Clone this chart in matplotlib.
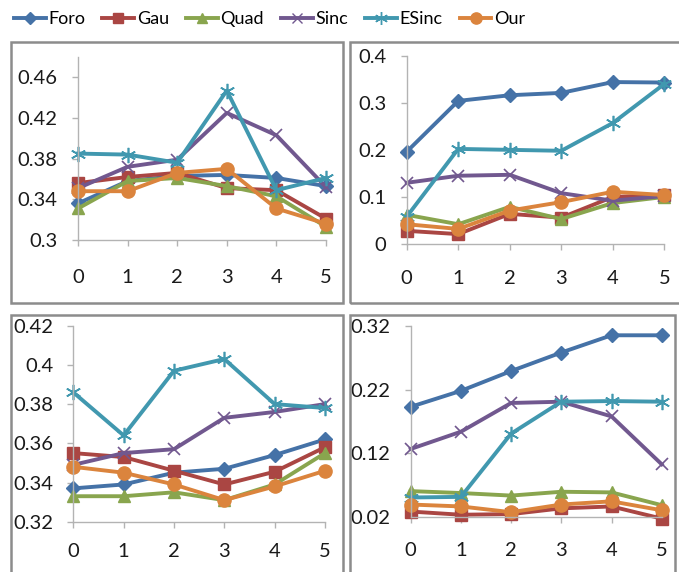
import matplotlib
matplotlib.use("Agg")
import matplotlib.pyplot as plt
from matplotlib.patches import Rectangle
from matplotlib.lines import Line2D

plt.rcParams['font.family'] = ['Lato', 'DejaVu Sans']

#%% data
x = [0, 1, 2, 3, 4, 5]
names = ['Foro', 'Gau', 'Quad', 'Sinc', 'ESinc', 'Our']

# top left panel
tl_foro = [0.336, 0.358, 0.363, 0.364, 0.361, 0.353]
tl_gau = [0.356, 0.362, 0.366, 0.351, 0.349, 0.321]
tl_quad = [0.331, 0.358, 0.361, 0.353, 0.343, 0.313]
tl_sinc = [0.351, 0.372, 0.379, 0.425, 0.403, 0.352]
tl_esinc = [0.385, 0.384, 0.376, 0.447, 0.349, 0.361]
tl_our = [0.348, 0.348, 0.366, 0.370, 0.331, 0.316]

# top right panel
tr_foro = [0.196, 0.304, 0.316, 0.321, 0.344, 0.343]
tr_gau = [0.028, 0.021, 0.064, 0.056, 0.100, 0.104]
tr_quad = [0.062, 0.042, 0.079, 0.053, 0.087, 0.100]
tr_sinc = [0.130, 0.145, 0.147, 0.108, 0.092, 0.102]
tr_esinc = [0.058, 0.202, 0.200, 0.198, 0.257, 0.340]
tr_our = [0.042, 0.032, 0.071, 0.089, 0.111, 0.104]

# bottom left panel
bl_foro = [0.337, 0.339, 0.345, 0.347, 0.354, 0.362]
bl_gau = [0.355, 0.353, 0.346, 0.339, 0.3455, 0.358]
bl_quad = [0.333, 0.333, 0.335, 0.331, 0.339, 0.355]
bl_sinc = [0.349, 0.355, 0.357, 0.373, 0.376, 0.380]
bl_esinc = [0.386, 0.364, 0.397, 0.403, 0.380, 0.378]
bl_our = [0.348, 0.345, 0.339, 0.331, 0.338, 0.346]

# bottom right panel
br_foro = [0.193, 0.218, 0.249, 0.278, 0.305, 0.305]
br_gau = [0.029, 0.024, 0.025, 0.034, 0.037, 0.018]
br_quad = [0.061, 0.058, 0.054, 0.060, 0.059, 0.039]
br_sinc = [0.127, 0.154, 0.199, 0.201, 0.178, 0.103]
br_esinc = [0.051, 0.052, 0.151, 0.201, 0.202, 0.201]
br_our = [0.040, 0.037, 0.028, 0.040, 0.045, 0.031]

#%% styles (excel 2007 default look)
colors = ['#4572A7', '#AA4643', '#89A54E', '#71588F', '#4198AF', '#DB843D']
markers = ['D', 's', '^', 'x', (6, 2, 0), 'o']
msizes = [7, 8.5, 9, 9, 11, 9.5]

fig = plt.figure(figsize=(6.79, 5.72), dpi=100)
W, H = 679.0, 572.0

def px_axes(x0, x1, ytop, ybot):
    return fig.add_axes([x0 / W, 1 - ybot / H, (x1 - x0) / W, (ybot - ytop) / H])

panels = [
    # series, axis box (px), ylim, yticks, tick labels, x label pad
    ([tl_foro, tl_gau, tl_quad, tl_sinc, tl_esinc, tl_our],
     (78, 326, 57, 240), (0.3, 0.48), [0.3, 0.34, 0.38, 0.42, 0.46],
     ['0.3', '0.34', '0.38', '0.42', '0.46'], 17),
    ([tr_foro, tr_gau, tr_quad, tr_sinc, tr_esinc, tr_our],
     (406.7, 664.3, 55.7, 244), (0, 0.4), [0, 0.1, 0.2, 0.3, 0.4],
     ['0', '0.1', '0.2', '0.3', '0.4'], 15),
    ([bl_foro, bl_gau, bl_quad, bl_sinc, bl_esinc, bl_our],
     (73.3, 325, 325.7, 521.7), (0.32, 0.42), [0.32, 0.34, 0.36, 0.38, 0.4, 0.42],
     ['0.32', '0.34', '0.36', '0.38', '0.4', '0.42'], 11.5),
    ([br_foro, br_gau, br_quad, br_sinc, br_esinc, br_our],
     (410.7, 661.7, 325.7, 517.3), (0.02, 0.32), [0.02, 0.12, 0.22, 0.32],
     ['0.02', '0.12', '0.22', '0.32'], 14),
]

for series, box, ylim, yt, ylab, xpad in panels:
    ax = px_axes(*box)
    for i, ys in enumerate(series):
        thin = i in (3, 4)
        ax.plot(x, ys, color=colors[i], lw=2.8, marker=markers[i],
                ms=msizes[i], mew=1.2 if thin else 1, clip_on=False)
    ax.set_xlim(0, 5)
    ax.set_ylim(*ylim)
    ax.set_xticks(x)
    ax.set_yticks(yt)
    ax.set_yticklabels(ylab)
    for s in ['top', 'right']:
        ax.spines[s].set_visible(False)
    for s in ['left', 'bottom']:
        ax.spines[s].set_color('#b3b3b3')
        ax.spines[s].set_linewidth(1)
    ax.tick_params(axis='both', colors='#b3b3b3', labelcolor='#1a1a1a',
                   labelsize=14.5, length=4, width=1, direction='out')
    ax.tick_params(axis='y', pad=10.5)
    ax.tick_params(axis='x', pad=xpad)

# grey chart frames around each panel
frames = [(11, 42, 343, 303), (350, 42, 690, 303),
          (11, 315, 343, 590), (350, 315, 675, 590)]
for x0, y0, x1, y1 in frames:
    fig.add_artist(Rectangle((x0 / W, 1 - y1 / H), (x1 - x0) / W, (y1 - y0) / H,
                             transform=fig.transFigure, fill=False,
                             edgecolor='#8c8c8c', lw=1.8))

# legend on top
handles = [Line2D([], [], color=colors[i], lw=2.8, marker=markers[i],
                  ms=msizes[i] * 0.85) for i in range(6)]
fig.legend(handles, names, loc='center left', bbox_to_anchor=(14 / W, 1 - 19 / H),
           ncol=6, frameon=False, fontsize=13, handlelength=1.75,
           handletextpad=0.15, columnspacing=0.95, borderpad=0, borderaxespad=0)

fig.savefig('out.png', dpi=100)
